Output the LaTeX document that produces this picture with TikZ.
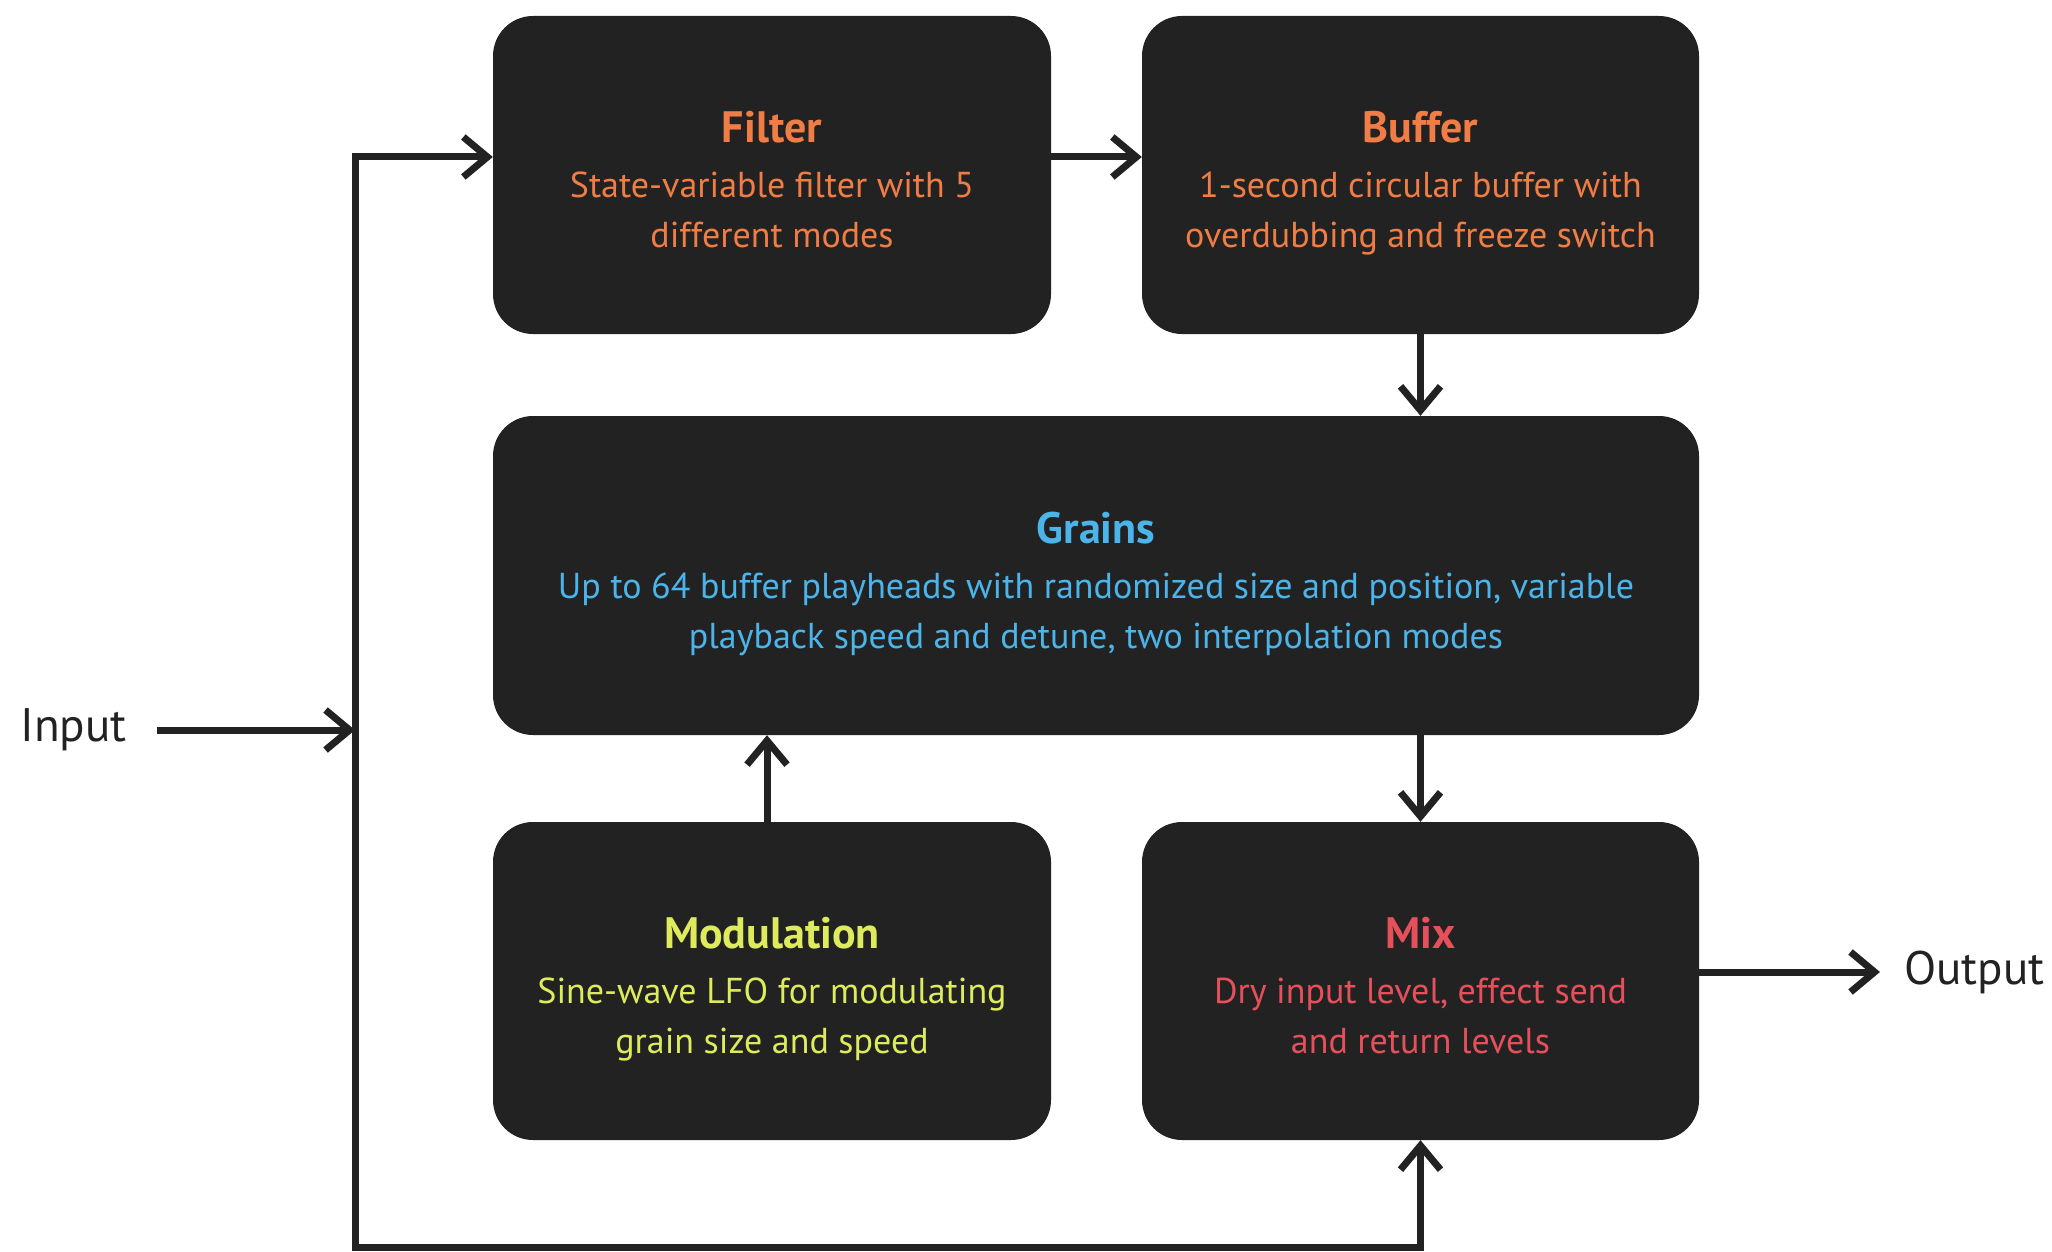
\documentclass[tikz,border=0pt]{standalone}
\usepackage{fontspec}
\setmainfont{PT Sans}
\usetikzlibrary{arrows.meta}
\definecolor{boxbg}{HTML}{222222}
\definecolor{corange}{HTML}{EF7D45}
\definecolor{cblue}{HTML}{4BB4EA}
\definecolor{cyellow}{HTML}{DDEB5C}
\definecolor{cred}{HTML}{E5505B}
\begin{document}
\begin{tikzpicture}[x=1pt,y=-1pt,
  box/.style={fill=boxbg, rounded corners=40pt, inner sep=0pt, minimum height=318pt},
  ttl/.style={font=\fontsize{44}{50}\selectfont\bfseries, anchor=base, inner sep=0pt},
  bdy/.style={font=\fontsize{36}{50}\selectfont, anchor=base, align=center, inner sep=0pt},
  tip/.tip={Straight Barb[length=24pt,width=40pt]},
  conn/.style={draw=boxbg, line width=7pt, -tip},
  lbl/.style={font=\fontsize{47}{50}\selectfont, text=boxbg, inner sep=0pt}]
\useasboundingbox[fill=white] (0,0) rectangle (2052,1252);

\node[box, minimum width=558pt] (filter) at (772,175) {};
\node[box, minimum width=557pt] (buffer) at (1420.5,175) {};
\node[box, minimum width=1206pt, minimum height=319pt] (grains) at (1096,575.5) {};
\node[box, minimum width=558pt] (mod) at (772,981) {};
\node[box, minimum width=557pt] (mix) at (1420.5,981) {};

\node[ttl, text=corange] (filtert) at ([yshift=-127pt]filter.north) {Filter};
\node[bdy, text=corange] (filterb) at ([yshift=-232pt]filter.north) {State-variable filter with 5\\different modes};
\node[ttl, text=corange] (buffert) at ([yshift=-127pt]buffer.north) {Buffer};
\node[bdy, text=corange] (bufferb) at ([yshift=-232pt]buffer.north) {1-second circular buffer with\\overdubbing and freeze switch};
\node[ttl, text=cblue] (grainst) at ([yshift=-128pt]grains.north) {Grains};
\node[bdy, text=cblue] (grainsb) at ([yshift=-233pt]grains.north) {Up to 64 buffer playheads with randomized size and position, variable\\playback speed and detune, two interpolation modes};
\node[ttl, text=cyellow] (modt) at ([yshift=-127pt]mod.north) {Modulation};
\node[bdy, text=cyellow] (modb) at ([yshift=-232pt]mod.north) {Sine-wave LFO for modulating\\grain size and speed};
\node[ttl, text=cred] (mixt) at ([yshift=-127pt]mix.north) {Mix};
\node[bdy, text=cred] (mixb) at ([yshift=-232pt]mix.north) {Dry input level, effect send\\and return levels};

\node[lbl] (input) at (73.5,730) {Input};
\node[lbl, anchor=west] (output) at (1904,972) {Output};

\coordinate (jin) at (355,730);
\coordinate (jtop) at (355,157);
\coordinate (jbot) at (355,1247);

\draw[conn, shorten <=30pt] (input.east) -- (jin);
\draw[draw=boxbg, line width=7pt, tip-tip] (jtop -| filter.west) -- (jtop) -- (jbot) -- (jbot -| mix.south) -- (mix.south);
\draw[conn] (filter.east |- jtop) -- (buffer.west |- jtop);
\draw[conn] (buffer.south) -- (buffer.south |- grains.north);
\draw[conn] (mix.north |- grains.south) -- (mix.north);
\draw[conn] ([xshift=-5pt]mod.north) -- ([xshift=-5pt]mod.north |- grains.south);
\draw[conn, shorten >=24pt] (mix.east |- output.west) -- (output.west);
\end{tikzpicture}
\end{document}
